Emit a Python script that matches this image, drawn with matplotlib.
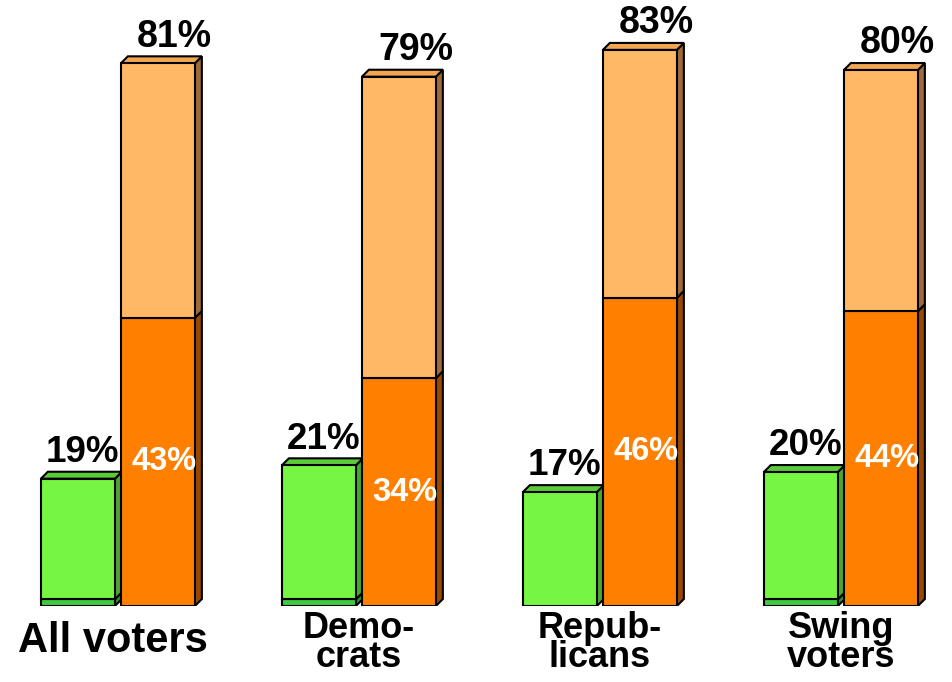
import matplotlib
matplotlib.use("Agg")
import matplotlib.pyplot as plt
from matplotlib.patches import Rectangle, Polygon

# -------------- DATA ---------------------------------------
groups        = ["All voters", "Demo-\ncrats", "Repub-\nlicans", "Swing\nvoters"]
green_total   = [19, 21, 17, 20]     # labelled value of the green bar
green_base    = [1, 1, 0, 1]         # thin darker strip at the bottom
orange_total  = [81, 79, 83, 80]     # full stacked orange bar
orange_dark   = [43, 34, 46, 44]     # lower (dark orange) segment
# -----------------------------------------------------------

# -------------- STYLE --------------------------------------
FONT       = "Liberation Sans"
bar_w      = 0.307
green_off  = -0.32
orange_off = 0.012
dx, dy     = 0.029, 1.04          # depth of the fake 3-D faces
edge_lw    = 1.5

green_cols   = ("#76F542", "#47A82C", "#5CCB3A")   # front, side, top
strip_cols   = ("#3FCB3F", "#2E8F2E", "#3FCB3F")
dark_cols    = ("#FF8000", "#9A4800", "#E07000")
light_cols   = ("#FFB866", "#A06A38", "#F2A652")
# -----------------------------------------------------------


def box(ax, x0, y0, y1, cols, top=True, z=2):
    """Front face, right side face and (optionally) top face of one block."""
    front, side, lid = cols
    kw = dict(edgecolor="black", linewidth=edge_lw, joinstyle="miter", zorder=z)
    ax.add_patch(Polygon([(x0 + bar_w, y0), (x0 + bar_w + dx, y0 + dy),
                          (x0 + bar_w + dx, y1 + dy), (x0 + bar_w, y1)],
                         facecolor=side, **kw))
    if top:
        ax.add_patch(Polygon([(x0, y1), (x0 + dx, y1 + dy),
                              (x0 + bar_w + dx, y1 + dy), (x0 + bar_w, y1)],
                             facecolor=lid, **kw))
    ax.add_patch(Rectangle((x0, y0), bar_w, y1 - y0, facecolor=front, **kw))


fig = plt.figure(figsize=(9.52, 6.82), dpi=100)
ax = fig.add_axes([0, 76 / 682, 1, 603 / 682])
ax.set_xlim(-0.4896, 3.4606)
ax.set_ylim(0, 90)
ax.axis("off")
trans = ax.get_xaxis_transform()

for i, name in enumerate(groups):
    gx = i + green_off
    ox = i + orange_off

    # green bar (drawn first so the orange bar sits in front of its side)
    if green_base[i] > 0:
        box(ax, gx, 0, green_base[i], strip_cols, top=False, z=2)
    box(ax, gx, green_base[i], green_total[i], green_cols, z=2)

    # stacked orange bar
    box(ax, ox, 0, orange_dark[i], dark_cols, top=False, z=3)
    box(ax, ox, orange_dark[i], orange_total[i], light_cols, z=3)

    # value labels
    ax.text(ox + bar_w / 2 + 0.07, orange_total[i] + 2.5, f"{orange_total[i]}%",
            ha="center", va="baseline", fontsize=27, fontweight="bold",
            family=FONT, color="black", zorder=5)
    ax.text(gx + bar_w / 2 + 0.02, green_total[i] + 2.5, f"{green_total[i]}%",
            ha="center", va="baseline", fontsize=26.5, fontweight="bold",
            family=FONT, color="black", zorder=5)
    ax.text(ox + bar_w / 2 + 0.025, orange_dark[i] / 2, f"{orange_dark[i]}%",
            ha="center", va="center", fontsize=23.5, fontweight="bold",
            family=FONT, color="white", zorder=5)

    # category labels under the bars
    if "\n" not in name:
        ax.text(i - 0.02, -0.076, name, transform=trans, ha="center",
                va="baseline", fontsize=30, fontweight="bold", family=FONT)
    else:
        ax.text(i, -0.009, name, transform=trans, ha="center", va="top",
                multialignment="center", linespacing=0.75,
                fontsize=26, fontweight="bold", family=FONT)

fig.savefig("out.png", dpi=100)
